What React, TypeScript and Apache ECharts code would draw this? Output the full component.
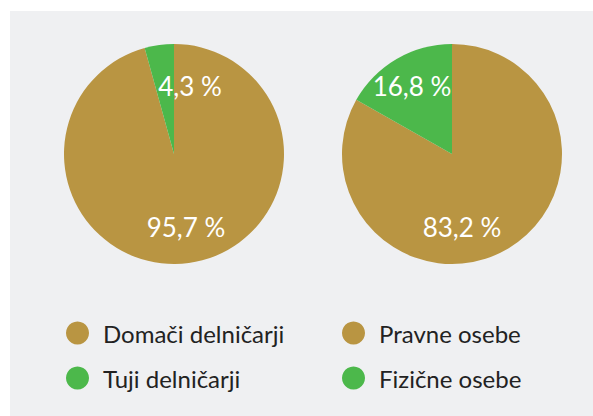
import React, { useEffect, useRef } from "react";
import * as echarts from "echarts";

const leftNames = ["Domači delničarji", "Tuji delničarji"];
const leftValues = [95.7, 4.3];
const rightNames = ["Pravne osebe", "Fizične osebe"];
const rightValues = [83.2, 16.8];
const colors = ["#b99542", "#4cb84b"];

const fmt = (v: number) => v.toFixed(1).replace(".", ",") + " %";

export default function App() {
  const ref = useRef<HTMLDivElement>(null);
  useEffect(() => {
    if (!ref.current) return;
    const chart = echarts.init(ref.current, undefined, { renderer: "svg" });
    const font = "Lato, 'Noto Sans', sans-serif";
    const leftPos = [
      [186, 227],
      [190, 86],
    ];
    const rightPos = [
      [462, 227],
      [412, 86],
    ];
    const mkSeries = (names: string[], values: number[], center: string[], pos: number[][]) => ({
      type: "pie",
      radius: 110,
      center,
      startAngle: 90,
      clockwise: true,
      silent: true,
      emphasis: { disabled: true },
      label: {
        show: true,
        position: "inside",
        color: "#fff",
        fontSize: 26,
        fontWeight: 400,
        fontFamily: font,
        formatter: (p: any) => fmt(p.value),
      },
      labelLine: { show: false },
      labelLayout: (p: any) => ({
        x: pos[p.dataIndex][0],
        y: pos[p.dataIndex][1],
        align: "center",
        verticalAlign: "middle",
      }),
      itemStyle: { borderWidth: 0 },
      data: names.map((n, i) => ({ name: n, value: values[i], itemStyle: { color: colors[i] } })),
    });
    const legendBase = {
      orient: "vertical",
      top: 321,
      padding: 0,
      icon: "circle",
      itemWidth: 23,
      itemHeight: 23,
      itemGap: 21,
      selectedMode: false,
      textStyle: {
        fontSize: 24,
        color: "#222",
        fontFamily: font,
        padding: [0, 0, 0, 9],
      },
    };
    chart.setOption({
      animation: false,
      graphic: [
        {
          type: "rect",
          z: -10,
          silent: true,
          shape: { x: 10, y: 11, width: 600, height: 420 },
          style: { fill: "#eff0f2" },
        },
      ],
      legend: [
        { ...legendBase, left: 66, data: leftNames },
        { ...legendBase, left: 342, data: rightNames },
      ],
      series: [
        mkSeries(leftNames, leftValues, ["174", "154"], leftPos),
        mkSeries(rightNames, rightValues, ["452", "154"], rightPos),
      ],
    });
    return () => chart.dispose();
  }, []);
  return (
    <div style={{ position: "fixed", left: 0, top: 0, width: 593, height: 416, background: "#fff" }}>
      <div ref={ref} style={{ width: 593, height: 416 }} />
    </div>
  );
}
